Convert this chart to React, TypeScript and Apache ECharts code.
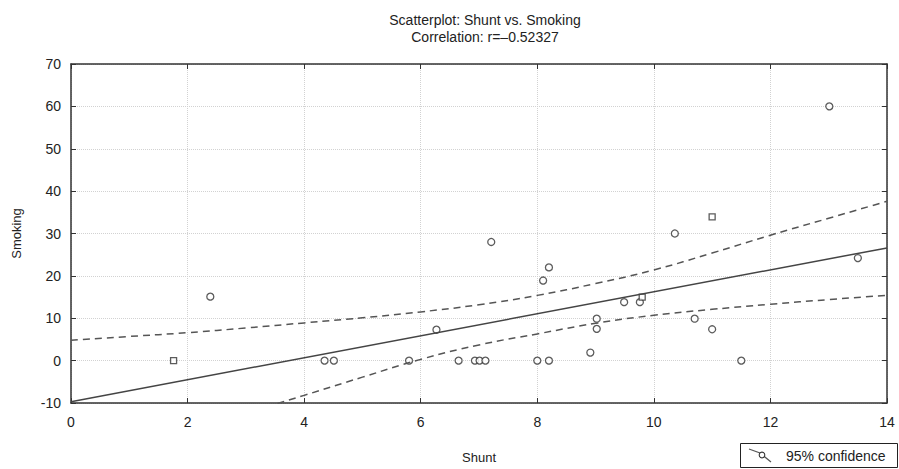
import React, { useEffect, useRef } from "react";
import * as echarts from "echarts";

const circleX = [2.39, 4.35, 4.51, 5.8, 6.27, 6.65, 6.93, 7.01, 7.11, 7.21, 8.0, 8.1, 8.2, 8.2, 8.91, 9.02, 9.02, 9.49, 9.76, 10.36, 10.7, 11.0, 11.5, 13.01, 13.5];
const circleY = [15.1, 0, 0, 0, 7.3, 0, 0, 0, 0, 28, 0, 18.9, 22, 0, 1.9, 9.9, 7.5, 13.8, 13.8, 30, 9.9, 7.4, 0, 60, 24.2];
const squareX = [1.76, 9.8, 11.0];
const squareY = [0, 15, 33.9];

const fitX = [0, 14];
const fitY = [-9.7, 26.6];

const bandX = [0, 1, 2, 3, 4, 5, 6, 7, 8, 9, 10, 11, 12, 13, 14];
const upperY = [4.8, 5.7, 6.6, 7.7, 8.9, 10.1, 11.5, 13.2, 15.4, 18.2, 21.4, 25.4, 29.6, 33.6, 37.6];
const lowerY = [-25.0, -20.8, -16.6, -12.4, -8.2, -3.9, 0.3, 3.7, 6.3, 8.8, 10.7, 12.1, 13.3, 14.4, 15.4];

const FONT = "Liberation Sans, Arial, sans-serif";

const pairs = (xs: number[], ys: number[]) => xs.map((x, i) => [x, ys[i]]);

export default function App() {
  const ref = useRef<HTMLDivElement>(null);
  useEffect(() => {
    if (!ref.current) return;
    const chart = echarts.init(ref.current, null, { renderer: "svg" });
    const axisLine = { show: true, onZero: false, lineStyle: { color: "#333", width: 1.5 } };
    const grid = { show: true, lineStyle: { color: "#d2d2d2", type: "dotted" as const, width: 1 } };
    const tick = { show: true, inside: true, length: 5, lineStyle: { color: "#333" } };
    chart.setOption({
      animation: false,
      backgroundColor: "#fff",
      textStyle: { fontFamily: FONT },
      title: {
        text: "Scatterplot: Shunt vs. Smoking\nCorrelation: r=–0.52327",
        left: 480,
        textAlign: "center",
        top: 6,
        textStyle: { fontFamily: FONT, fontSize: 14, fontWeight: "normal", color: "#222", lineHeight: 17 },
      },
      grid: { left: 71, right: 12, top: 64, bottom: 64 },
      xAxis: [
        {
          type: "value",
          min: 0,
          max: 14,
          interval: 2,
          position: "bottom",
          name: "Shunt",
          nameLocation: "middle",
          nameGap: 48,
          nameTextStyle: { fontFamily: FONT, fontSize: 13, color: "#222" },
          axisLine,
          axisTick: tick,
          axisLabel: { fontFamily: FONT, fontSize: 14, color: "#222", margin: 12 },
          splitLine: grid,
        },
        {
          type: "value",
          min: 0,
          max: 14,
          interval: 2,
          position: "top",
          axisLine,
          axisTick: tick,
          axisLabel: { show: false },
          splitLine: { show: false },
        },
      ],
      yAxis: [
        {
          type: "value",
          min: -10,
          max: 70,
          interval: 10,
          position: "left",
          name: "Smoking",
          nameLocation: "middle",
          nameGap: 48,
          nameRotate: 90,
          nameTextStyle: { fontFamily: FONT, fontSize: 13, color: "#222" },
          axisLine,
          axisTick: tick,
          axisLabel: { fontFamily: FONT, fontSize: 14, color: "#222", margin: 10 },
          splitLine: grid,
        },
        {
          type: "value",
          min: -10,
          max: 70,
          interval: 10,
          position: "right",
          axisLine,
          axisTick: tick,
          axisLabel: { show: false },
          splitLine: { show: false },
        },
      ],
      series: [
        {
          type: "line",
          data: pairs(fitX, fitY),
          showSymbol: false,
          clip: true,
          lineStyle: { color: "#444", width: 1.5 },
        },
        {
          type: "line",
          data: pairs(bandX, upperY),
          smooth: true,
          showSymbol: false,
          clip: true,
          lineStyle: { color: "#555", width: 1.5, type: [7, 5] },
        },
        {
          type: "line",
          data: pairs(bandX, lowerY),
          smooth: true,
          showSymbol: false,
          clip: true,
          lineStyle: { color: "#555", width: 1.5, type: [7, 5] },
        },
        {
          type: "scatter",
          data: pairs(circleX, circleY),
          symbol: "circle",
          symbolSize: 7,
          itemStyle: { color: "#fff", borderColor: "#333", borderWidth: 1.3 },
        },
        {
          type: "scatter",
          data: pairs(squareX, squareY),
          symbol: "rect",
          symbolSize: 6,
          itemStyle: { color: "#fff", borderColor: "#333", borderWidth: 1.3 },
        },
      ],
      graphic: [
        {
          type: "rect",
          shape: { x: 740.5, y: 443.5, width: 157, height: 24 },
          style: { fill: "#fff", stroke: "#222", lineWidth: 1 },
        },
        {
          type: "polyline",
          shape: { points: [[749, 449], [760, 453], [771, 462]] },
          style: { stroke: "#555", lineWidth: 1.2, fill: "none" },
        },
        {
          type: "circle",
          shape: { cx: 762, cy: 455, r: 2.8 },
          style: { fill: "#fff", stroke: "#333", lineWidth: 1.1 },
        },
        {
          type: "text",
          x: 786,
          y: 456,
          style: { text: "95% confidence", fontFamily: FONT, fontSize: 14, fill: "#222", verticalAlign: "middle" },
        },
      ],
    });
    return () => chart.dispose();
  }, []);
  return <div ref={ref} style={{ position: "fixed", left: 0, top: 0, width: 899, height: 469 }} />;
}
